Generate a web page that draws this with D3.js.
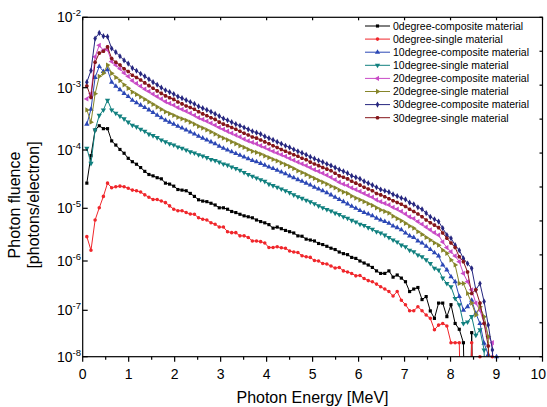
<!DOCTYPE html>
<html>
<head>
<meta charset="utf-8">
<style>
body{margin:0;background:#fff}
text{font-family:"Liberation Sans",Arial,sans-serif;fill:#000}
</style>
</head>
<body>
<svg id="chart" width="547" height="407"></svg>
<script src="https://cdnjs.cloudflare.com/ajax/libs/d3/7.8.5/d3.min.js"></script>
<script>
// photon energy bins [MeV]
var energy = [0.09,0.18,0.27,0.36,0.45,0.54,0.63,0.72,0.81,0.9,0.99,1.08,1.17,1.26,1.35,1.44,1.53,1.62,1.71,1.8,
  1.89,1.98,2.07,2.16,2.25,2.34,2.43,2.52,2.61,2.7,2.79,2.88,2.97,3.06,3.15,3.24,3.33,3.42,3.51,3.6,
  3.69,3.78,3.87,3.96,4.05,4.14,4.23,4.32,4.41,4.5,4.59,4.68,4.77,4.86,4.95,5.04,5.13,5.22,5.31,5.4,
  5.49,5.58,5.67,5.76,5.85,5.94,6.03,6.12,6.21,6.3,6.39,6.48,6.57,6.66,6.75,6.84,6.93,7.02,7.11,7.2,
  7.29,7.38,7.47,7.56,7.65,7.74,7.83,7.92,8.01,8.1,8.19,8.28,8.37,8.46,8.55,8.64,8.73,8.82,8.91,9.0];

// photon fluence [photons/electron], 0 = below the axis
var deg0Composite = [2.7e-5,8.0e-5,2.1e-4,2.45e-4,2.2e-4,2.2e-4,1.4e-4,1.2e-4,1.02e-4,8.8e-5,
  7.2e-5,6.3e-5,5.7e-5,5.0e-5,4.3e-5,3.8e-5,3.6e-5,3.35e-5,3.2e-5,2.7e-5,
  2.6e-5,2.4e-5,2.1e-5,2.05e-5,2.0e-5,1.8e-5,1.6e-5,1.4e-5,1.33e-5,1.3e-5,
  1.22e-5,1.14e-5,1.02e-5,1.02e-5,9.6e-6,8.7e-6,8.3e-6,7.7e-6,7.2e-6,6.9e-6,
  6.6e-6,6.0e-6,5.6e-6,5.3e-6,4.9e-6,4.2e-6,4.4e-6,4.1e-6,3.8e-6,3.6e-6,
  3.4e-6,3.0e-6,2.95e-6,2.6e-6,2.5e-6,2.4e-6,2.15e-6,2.05e-6,1.9e-6,1.75e-6,
  1.65e-6,1.48e-6,1.38e-6,1.32e-6,1.17e-6,1.12e-6,1.0e-6,9.1e-7,8.3e-7,7.4e-7,
  6.3e-7,5.6e-7,5.6e-7,6.3e-7,4.7e-7,5.2e-7,4.5e-7,3.8e-7,2.4e-7,2.7e-7,
  2.9e-7,1.65e-7,1.9e-7,9.7e-8,6.7e-8,1.4e-7,1.4e-7,7.3e-8,1.3e-7,5.2e-8,
  3.9e-8,2.0e-8,0,3.3e-8,0,0,0,0,0,0];
var deg0Single = [2.9e-6,1.6e-6,6.0e-6,1.02e-5,1.6e-5,2.7e-5,2.25e-5,2.35e-5,2.4e-5,2.35e-5,
  2.2e-5,2.05e-5,2.0e-5,1.9e-5,1.7e-5,1.55e-5,1.42e-5,1.42e-5,1.33e-5,1.25e-5,
  1.1e-5,9.6e-6,9.0e-6,9.0e-6,8.3e-6,7.8e-6,7.7e-6,6.6e-6,6.2e-6,6.0e-6,
  5.3e-6,5.0e-6,4.4e-6,4.4e-6,3.6e-6,3.45e-6,3.45e-6,3.0e-6,3.0e-6,2.8e-6,
  2.4e-6,2.4e-6,2.33e-6,2.2e-6,1.8e-6,1.8e-6,1.87e-6,1.78e-6,1.74e-6,1.55e-6,
  1.48e-6,1.45e-6,1.26e-6,1.2e-6,1.17e-6,1.02e-6,1.0e-6,8.9e-7,8.7e-7,7.9e-7,
  7.2e-7,7.4e-7,6.3e-7,6.0e-7,5.6e-7,5.0e-7,5.1e-7,4.4e-7,4.0e-7,3.8e-7,
  3.4e-7,3.0e-7,2.7e-7,2.4e-7,1.95e-7,2.4e-7,1.6e-7,1.3e-7,9.8e-8,9.8e-8,
  1.18e-7,9.8e-8,7.9e-8,6.7e-8,3.8e-8,4.8e-8,5.2e-8,4.6e-8,2.0e-8,2.0e-8,
  2.0e-8,0,0,2.0e-8,0,1.0e-8,0,0,1.0e-8,0];
var deg10Composite = [2.6e-4,4.5e-4,1.4e-3,2.0e-3,1.7e-3,1.8e-3,1.2e-3,1.05e-3,9.3e-4,8.1e-4,
  7.2e-4,6.3e-4,5.75e-4,5.25e-4,4.8e-4,4.4e-4,4.0e-4,3.6e-4,3.3e-4,3.0e-4,
  2.8e-4,2.6e-4,2.4e-4,2.25e-4,2.1e-4,1.95e-4,1.8e-4,1.66e-4,1.55e-4,1.45e-4,
  1.35e-4,1.26e-4,1.15e-4,1.07e-4,1.0e-4,9.3e-5,8.7e-5,8.1e-5,7.6e-5,7.1e-5,
  6.6e-5,6.3e-5,5.9e-5,5.5e-5,5.1e-5,4.8e-5,4.5e-5,4.2e-5,3.9e-5,3.6e-5,
  3.35e-5,3.1e-5,2.9e-5,2.7e-5,2.5e-5,2.3e-5,2.15e-5,2.0e-5,1.85e-5,1.7e-5,
  1.55e-5,1.42e-5,1.3e-5,1.19e-5,1.08e-5,1.0e-5,9.1e-6,8.3e-6,7.8e-6,7.2e-6,
  6.5e-6,6.0e-6,5.6e-6,5.2e-6,4.6e-6,4.3e-6,3.9e-6,3.4e-6,3.0e-6,2.8e-6,
  2.4e-6,2.2e-6,1.9e-6,1.65e-6,1.43e-6,1.25e-6,8.3e-7,6.6e-7,4.8e-7,3.8e-7,
  1.9e-7,1.0e-7,1.18e-7,1.6e-7,8.6e-8,5.2e-8,1.95e-8,1.1e-8,0,1.0e-8];
var deg10Single = [1.07e-4,5.9e-5,2.1e-4,3.6e-4,4.4e-4,6.3e-4,4.4e-4,3.9e-4,3.5e-4,3.16e-4,
  2.8e-4,2.5e-4,2.35e-4,2.15e-4,2.0e-4,1.8e-4,1.7e-4,1.58e-4,1.45e-4,1.35e-4,
  1.26e-4,1.2e-4,1.12e-4,1.07e-4,1.0e-4,9.3e-5,8.9e-5,8.3e-5,7.9e-5,7.4e-5,
  6.9e-5,6.6e-5,6.2e-5,5.75e-5,5.5e-5,5.1e-5,4.8e-5,4.5e-5,4.1e-5,3.8e-5,
  3.55e-5,3.3e-5,3.1e-5,2.9e-5,2.6e-5,2.45e-5,2.3e-5,2.15e-5,2.0e-5,1.86e-5,
  1.7e-5,1.58e-5,1.48e-5,1.38e-5,1.29e-5,1.2e-5,1.1e-5,1.02e-5,9.5e-6,8.9e-6,
  8.1e-6,7.6e-6,6.9e-6,6.5e-6,5.9e-6,5.5e-6,5.0e-6,4.7e-6,4.3e-6,4.0e-6,
  3.6e-6,3.4e-6,3.1e-6,2.8e-6,2.5e-6,2.3e-6,2.0e-6,1.87e-6,1.6e-6,1.5e-6,
  1.3e-6,1.2e-6,1.05e-6,8.9e-7,7.1e-7,6.6e-7,4.5e-7,3.5e-7,3.0e-7,1.74e-7,
  1.3e-7,5.2e-8,5.6e-8,7.3e-8,2.9e-8,3.8e-8,1.4e-8,0,0,0];
var deg20Composite = [6.6e-4,8.0e-4,2.75e-3,4.0e-3,3.4e-3,3.45e-3,2.35e-3,2.1e-3,1.86e-3,1.62e-3,
  1.45e-3,1.26e-3,1.15e-3,1.05e-3,9.5e-4,8.7e-4,7.9e-4,7.2e-4,6.6e-4,6.0e-4,
  5.6e-4,5.25e-4,4.8e-4,4.5e-4,4.2e-4,3.9e-4,3.6e-4,3.3e-4,3.1e-4,2.9e-4,
  2.7e-4,2.5e-4,2.3e-4,2.15e-4,2.0e-4,1.86e-4,1.74e-4,1.62e-4,1.5e-4,1.4e-4,
  1.32e-4,1.26e-4,1.17e-4,1.1e-4,1.02e-4,9.5e-5,8.9e-5,8.3e-5,7.8e-5,7.2e-5,
  6.7e-5,6.2e-5,5.8e-5,5.4e-5,5.0e-5,4.6e-5,4.3e-5,4.0e-5,3.7e-5,3.4e-5,
  3.1e-5,2.8e-5,2.6e-5,2.45e-5,2.25e-5,2.1e-5,1.95e-5,1.8e-5,1.66e-5,1.55e-5,
  1.4e-5,1.3e-5,1.22e-5,1.14e-5,1.04e-5,9.6e-6,8.7e-6,7.8e-6,6.9e-6,6.4e-6,
  5.6e-6,5.0e-6,4.4e-6,3.9e-6,3.45e-6,3.1e-6,2.3e-6,1.8e-6,1.5e-6,1.25e-6,
  9.7e-7,5.6e-7,3.8e-7,2.6e-7,1.4e-7,1.0e-7,5.2e-8,2.7e-8,2.0e-8,0];
var deg20Single = [4.4e-4,2.8e-4,8.0e-4,1.45e-3,1.6e-3,2.1e-3,1.6e-3,1.4e-3,1.26e-3,1.1e-3,
  9.8e-4,8.5e-4,7.8e-4,7.1e-4,6.5e-4,5.9e-4,5.4e-4,4.9e-4,4.5e-4,4.1e-4,
  3.85e-4,3.6e-4,3.35e-4,3.16e-4,3.0e-4,2.8e-4,2.6e-4,2.4e-4,2.25e-4,2.1e-4,
  1.95e-4,1.8e-4,1.66e-4,1.55e-4,1.45e-4,1.35e-4,1.26e-4,1.17e-4,1.1e-4,1.02e-4,
  9.5e-5,9.1e-5,8.5e-5,7.9e-5,7.4e-5,6.9e-5,6.5e-5,6.0e-5,5.6e-5,5.2e-5,
  4.8e-5,4.4e-5,4.1e-5,3.8e-5,3.5e-5,3.25e-5,3.0e-5,2.8e-5,2.6e-5,2.4e-5,
  2.25e-5,2.05e-5,1.9e-5,1.8e-5,1.62e-5,1.5e-5,1.4e-5,1.3e-5,1.2e-5,1.12e-5,
  1.02e-5,9.3e-6,8.7e-6,8.1e-6,7.1e-6,6.4e-6,5.8e-6,5.2e-6,4.6e-6,4.2e-6,
  3.6e-6,3.2e-6,2.8e-6,2.5e-6,2.2e-6,2.0e-6,1.6e-6,1.4e-6,1.05e-6,8.3e-7,
  3.5e-7,3.5e-7,2.2e-7,1.4e-7,7.9e-8,1.18e-7,7.3e-8,2.7e-8,0,0];
var deg30Composite = [1.2e-3,1.75e-3,5.0e-3,6.0e-3,5.4e-3,5.3e-3,3.6e-3,3.2e-3,2.8e-3,2.45e-3,
  2.2e-3,1.9e-3,1.74e-3,1.58e-3,1.45e-3,1.32e-3,1.2e-3,1.1e-3,1.0e-3,9.1e-4,
  8.5e-4,7.9e-4,7.2e-4,6.8e-4,6.3e-4,5.9e-4,5.5e-4,5.0e-4,4.7e-4,4.4e-4,
  4.1e-4,3.8e-4,3.5e-4,3.2e-4,3.0e-4,2.8e-4,2.6e-4,2.45e-4,2.3e-4,2.15e-4,
  2.0e-4,1.9e-4,1.8e-4,1.65e-4,1.55e-4,1.45e-4,1.35e-4,1.26e-4,1.17e-4,1.1e-4,
  1.02e-4,9.5e-5,8.9e-5,8.3e-5,7.6e-5,7.1e-5,6.6e-5,6.2e-5,5.75e-5,5.4e-5,
  5.0e-5,4.6e-5,4.3e-5,4.0e-5,3.6e-5,3.4e-5,3.2e-5,2.9e-5,2.7e-5,2.5e-5,
  2.3e-5,2.1e-5,2.0e-5,1.9e-5,1.73e-5,1.62e-5,1.5e-5,1.42e-5,1.25e-5,1.17e-5,
  1.04e-5,9.6e-6,8.1e-6,6.9e-6,6.2e-6,5.6e-6,4.2e-6,3.1e-6,2.7e-6,2.0e-6,
  1.6e-6,1.12e-6,8.9e-7,7.1e-7,2.6e-7,3.5e-7,1.5e-7,4.8e-8,1.4e-8,0];
var deg30Single = [1.06e-3,7.0e-4,2.3e-3,3.1e-3,3.3e-3,3.8e-3,2.6e-3,2.3e-3,2.1e-3,1.86e-3,
  1.7e-3,1.5e-3,1.4e-3,1.29e-3,1.17e-3,1.07e-3,9.8e-4,8.9e-4,8.1e-4,7.4e-4,
  6.9e-4,6.5e-4,5.9e-4,5.5e-4,5.1e-4,4.8e-4,4.5e-4,4.1e-4,3.8e-4,3.55e-4,
  3.3e-4,3.1e-4,2.8e-4,2.6e-4,2.45e-4,2.3e-4,2.15e-4,2.0e-4,1.86e-4,1.74e-4,
  1.62e-4,1.55e-4,1.45e-4,1.35e-4,1.26e-4,1.17e-4,1.1e-4,1.02e-4,9.5e-5,8.9e-5,
  8.3e-5,7.8e-5,7.2e-5,6.8e-5,6.2e-5,5.75e-5,5.4e-5,5.0e-5,4.7e-5,4.4e-5,
  4.0e-5,3.6e-5,3.4e-5,3.2e-5,2.9e-5,2.7e-5,2.5e-5,2.3e-5,2.15e-5,2.0e-5,
  1.8e-5,1.7e-5,1.58e-5,1.46e-5,1.35e-5,1.26e-5,1.17e-5,1.07e-5,9.6e-6,8.7e-6,
  7.8e-6,6.9e-6,6.0e-6,5.3e-6,4.8e-6,4.3e-6,3.4e-6,2.7e-6,2.2e-6,1.8e-6,
  1.2e-6,9.7e-7,6.0e-7,2.2e-7,2.6e-7,1.4e-7,5.2e-8,1.7e-8,0,0];

var seriesNames = ["0degree-composite material","0degree-single material","10degree-composite material",
  "10degree-single material","20degree-composite material","20degree-single material",
  "30degree-composite material","30degree-single material"];

var xTicks = [0,1,2,3,4,5,6,7,8,9,10];
var xMinorTicks = [0.5,1.5,2.5,3.5,4.5,5.5,6.5,7.5,8.5,9.5];
var yDecades = [1e-8,1e-7,1e-6,1e-5,1e-4,1e-3,1e-2];
var yExponents = ["-8","-7","-6","-5","-4","-3","-2"];

// ---- layout ----
var plotLeft = 82.7, plotRight = 542.5, plotTop = 17.3, plotBottom = 356.7;

var hexagon = {
  draw: function(ctx, size) {
    var r = Math.sqrt(size / 2.598);
    for (var i = 0; i < 6; i++) {
      var a = Math.PI / 3 * i;
      if (i === 0) ctx.moveTo(r * Math.cos(a), r * Math.sin(a));
      else ctx.lineTo(r * Math.cos(a), r * Math.sin(a));
    }
    ctx.closePath();
  }
};

var styles = [
  {color:"#000000", type:d3.symbolSquare, size:10, rot:0},
  {color:"#f0262b", type:d3.symbolCircle, size:10, rot:0},
  {color:"#2b47b5", type:d3.symbolTriangle, size:12, rot:0},
  {color:"#11807f", type:d3.symbolTriangle, size:12, rot:180},
  {color:"#c94ac6", type:d3.symbolTriangle, size:12, rot:-90},
  {color:"#86852a", type:d3.symbolTriangle, size:12, rot:90},
  {color:"#26267f", type:d3.symbolDiamond, size:11, rot:0},
  {color:"#85161a", type:hexagon, size:11, rot:0}
];

var allSeries = [deg0Composite, deg0Single, deg10Composite, deg10Single,
                 deg20Composite, deg20Single, deg30Composite, deg30Single];

var svg = d3.select("#chart");

var x = d3.scaleLinear().domain([0, 10]).range([plotLeft, plotRight]);
// decades are not equally tall in the original figure
var y = d3.scaleLog().domain(yDecades).range([356.7, 310.3, 261, 208.3, 150, 87.7, 17.3]);
var yRight = d3.scaleLinear().domain([0, 10]).range([plotBottom, plotTop]);

svg.append("clipPath").attr("id", "plotClip")
  .append("rect").attr("x", plotLeft).attr("y", plotTop)
  .attr("width", plotRight - plotLeft).attr("height", plotBottom - plotTop);

function yPos(v) { return y(v > 0 ? v : 1e-12); }

var plot = svg.append("g");

allSeries.forEach(function(vals, i) {
  var st = styles[i];
  var pts = energy.map(function(e, j) { return [e, vals[j]]; });
  var line = d3.line().x(function(d){ return x(d[0]); }).y(function(d){ return yPos(d[1]); });
  plot.append("path")
    .attr("d", line(pts))
    .attr("clip-path", "url(#plotClip)")
    .attr("fill", "none")
    .attr("stroke", st.color)
    .attr("stroke-width", 1);
  plot.selectAll(null)
    .data(pts.filter(function(d){ return d[1] >= 1e-8; }))
    .enter().append("path")
    .attr("d", d3.symbol().type(st.type).size(st.size))
    .attr("transform", function(d){ return "translate(" + x(d[0]) + "," + y(d[1]) + ") rotate(" + st.rot + ")"; })
    .attr("fill", st.color);
});

// ---- frame and ticks ----
var axes = svg.append("g").attr("stroke", "#000").attr("stroke-width", 1.2);
axes.append("rect").attr("x", plotLeft).attr("y", plotTop)
  .attr("width", plotRight - plotLeft).attr("height", plotBottom - plotTop).attr("fill", "none");

axes.selectAll(".xt").data(xTicks).enter().append("line")
  .attr("x1", function(d){ return x(d); }).attr("x2", function(d){ return x(d); })
  .attr("y1", plotBottom).attr("y2", plotBottom + 5);
axes.selectAll(".xm").data(xMinorTicks).enter().append("line")
  .attr("x1", function(d){ return x(d); }).attr("x2", function(d){ return x(d); })
  .attr("y1", plotBottom).attr("y2", plotBottom + 3);
axes.selectAll(".xtop").data(xTicks).enter().append("line")
  .attr("x1", function(d){ return x(d); }).attr("x2", function(d){ return x(d); })
  .attr("y1", plotTop).attr("y2", plotTop + 3);
axes.selectAll(".yt").data(yDecades).enter().append("line")
  .attr("x1", plotLeft).attr("x2", plotLeft + 5)
  .attr("y1", function(d){ return y(d); }).attr("y2", function(d){ return y(d); });
axes.selectAll(".yr").data(yRight.ticks(10)).enter().append("line")
  .attr("x1", plotRight - 3).attr("x2", plotRight)
  .attr("y1", function(d){ return yRight(d); }).attr("y2", function(d){ return yRight(d); });

// ---- tick labels ----
svg.selectAll(".xl").data(xTicks).enter().append("text")
  .attr("x", function(d){ return d === 10 ? 546 : x(d); }).attr("y", plotBottom + 22)
  .attr("text-anchor", function(d){ return d === 10 ? "end" : "middle"; })
  .attr("font-size", 14)
  .text(function(d){ return d; });

var yl = svg.selectAll(".yl").data(yDecades).enter().append("text")
  .attr("x", 81).attr("y", function(d){ return y(d) + 5; })
  .attr("text-anchor", "end").attr("font-size", 14);
yl.append("tspan").text("10");
yl.append("tspan").attr("font-size", 9.5).attr("dy", -6)
  .text(function(d, i){ return yExponents[i]; });

// ---- axis titles ----
svg.append("text").attr("x", 312.5).attr("y", 403)
  .attr("text-anchor", "middle").attr("font-size", 16)
  .text("Photon Energy [MeV]");
var yt = svg.append("text").attr("transform", "translate(20,205) rotate(-90)")
  .attr("text-anchor", "middle").attr("font-size", 16);
yt.append("tspan").attr("x", 0).attr("y", 0).text("Photon fluence");
yt.append("tspan").attr("x", 0).attr("y", 18.5).text("[photons/electron]");

// ---- legend ----
var legend = svg.append("g");
seriesNames.forEach(function(name, i) {
  var st = styles[i];
  var ly = 26 + i * 13.1;
  legend.append("line").attr("x1", 365).attr("x2", 390).attr("y1", ly).attr("y2", ly)
    .attr("stroke", st.color).attr("stroke-width", 1);
  legend.append("path").attr("d", d3.symbol().type(st.type).size(st.size))
    .attr("transform", "translate(377.5," + ly + ") rotate(" + st.rot + ")")
    .attr("fill", st.color);
  legend.append("text").attr("x", 393).attr("y", ly + 3.8)
    .attr("font-size", 10.5).text(name);
});
</script>
</body>
</html>
